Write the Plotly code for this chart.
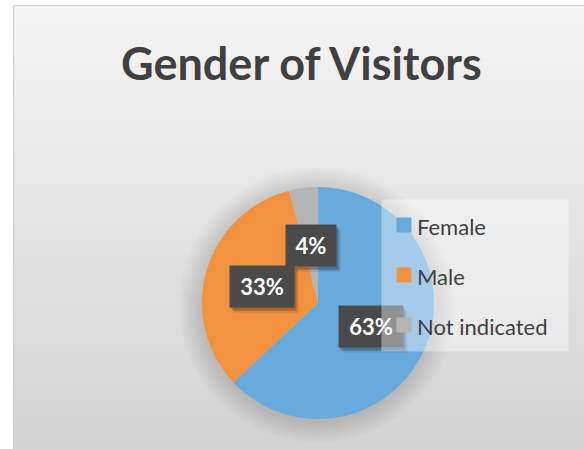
import plotly.graph_objects as go
import math

# ---- data ----
labels = ["Female", "Male", "Not indicated"]
values = [63, 33, 4]
colors = ["#68AADC", "#F2923F", "#B4B4B4"]
title_text = "Gender of Visitors"

W, H = 584, 449
FONT = "Lato"

def px(x):
    return x / W

def py(y):
    return 1 - y / H

# pie geometry (pixels)
cx, cy, R = 318, 303, 116

fig = go.Figure()
fig.add_trace(go.Pie(
    labels=labels, values=values,
    marker=dict(colors=colors, line=dict(width=0)),
    sort=False, direction="clockwise", rotation=0,
    textinfo="none", showlegend=False, hole=0,
    domain=dict(x=[px(cx - R), px(cx + R)], y=[py(cy + R), py(cy - R)]),
))

shapes = []
# background gradient of chart area
x0b, y0b, x1b, y1b = 13, 5, 600, 460
n = 60
top_c, bot_c = 244, 210
for i in range(n):
    t = i / (n - 1)
    c = round(top_c + (bot_c - top_c) * t)
    ya = y0b + (y1b - y0b) * i / n
    yb = y0b + (y1b - y0b) * (i + 1) / n + 1
    shapes.append(dict(type="rect", xref="paper", yref="paper", layer="below",
                       x0=px(x0b), x1=px(x1b), y0=py(yb), y1=py(ya),
                       line=dict(width=0), fillcolor=f"rgb({c},{c},{c})"))
# border
shapes.append(dict(type="rect", xref="paper", yref="paper", layer="below",
                   x0=px(13.5), x1=px(640), y0=py(480), y1=py(5.5),
                   line=dict(width=1.2, color="#d0d0d0"), fillcolor="rgba(0,0,0,0)"))
# soft shadow halo around the pie
for k in range(16, 0, -1):
    r = R + k * 1.4
    shapes.append(dict(type="circle", xref="paper", yref="paper", layer="below",
                       x0=px(cx - r - 1), x1=px(cx + r - 1), y0=py(cy + r + 2), y1=py(cy - r + 2),
                       line=dict(width=0), fillcolor="rgba(0,0,0,0.009)"))

annotations = []
# data labels
total = sum(values)
cum = 0
label_items = []
for v in values:
    mid = (cum + v / 2) / total * 2 * math.pi
    cum += v
    lx = cx + 0.5 * R * math.sin(mid)
    ly = cy - 0.5 * R * math.cos(mid)
    txt = f"{round(v / total * 100)}%"
    label_items.append((lx, ly, txt))

for (lx, ly, txt) in label_items:
    w = 22 + 14 * len(txt)
    for (dx, dy, a) in [(4, 5, 0.12), (2, 3, 0.22)]:
        annotations.append(dict(x=px(lx + dx), y=py(ly + dy), xref="paper", yref="paper",
                                text=" ", showarrow=False, width=w, height=41,
                                bgcolor=f"rgba(0,0,0,{a})", borderpad=0,
                                xanchor="center", yanchor="middle",
                                font=dict(size=10, color="rgba(0,0,0,0)")))
for (lx, ly, txt) in label_items:
    w = 22 + 14 * len(txt)
    annotations.append(dict(x=px(lx), y=py(ly), xref="paper", yref="paper",
                            text=f"<b>{txt}</b>", showarrow=False, width=w, height=41,
                            bgcolor="#4a4a4a", borderpad=0,
                            xanchor="center", yanchor="middle",
                            font=dict(family=FONT, size=22, color="white")))

# legend box
lgx0, lgy0, lgx1, lgy1 = 382, 200, 568, 351
annotations.append(dict(x=px((lgx0 + lgx1) / 2), y=py((lgy0 + lgy1) / 2), xref="paper", yref="paper",
                        text=" ", showarrow=False, width=lgx1 - lgx0, height=lgy1 - lgy0,
                        bgcolor="rgba(255,255,255,0.4)", borderpad=0,
                        xanchor="center", yanchor="middle", font=dict(size=10)))
for i, (lab, col) in enumerate(zip(labels, colors)):
    yc = 225 + 50 * i
    annotations.append(dict(x=px(404), y=py(yc), xref="paper", yref="paper",
                            text=" ", showarrow=False, width=14, height=14,
                            bgcolor=col, borderpad=0,
                            xanchor="center", yanchor="middle", font=dict(size=8)))
    annotations.append(dict(x=px(415), y=py(yc + 1), xref="paper", yref="paper",
                            text=lab, showarrow=False,
                            xanchor="left", yanchor="middle",
                            font=dict(family=FONT, size=22, color="#404040")))

# title
annotations.append(dict(x=px(301), y=py(63), xref="paper", yref="paper",
                        text=f"<b>{title_text}</b>", showarrow=False,
                        xanchor="center", yanchor="middle",
                        font=dict(family=FONT, size=45, color="#404040")))

fig.update_layout(
    width=W, height=H, margin=dict(l=0, r=0, t=0, b=0),
    paper_bgcolor="white", plot_bgcolor="white",
    shapes=shapes, annotations=annotations, showlegend=False,
)

fig.write_html("out.html",
               config={"displayModeBar": False},
               post_script="document.body.style.margin='0';document.body.style.overflow='hidden';")
